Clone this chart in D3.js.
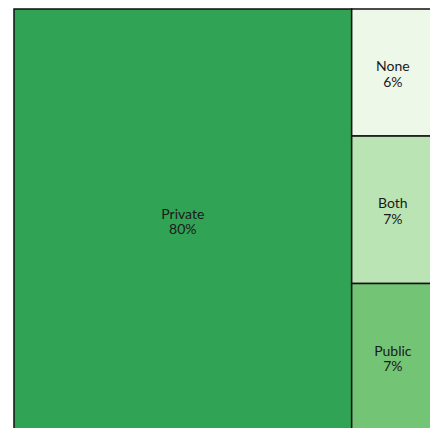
<!DOCTYPE html>
<html>
<head>
<meta charset="utf-8">
<script src="https://cdn.jsdelivr.net/npm/d3@7"></script>
<style>
    body { margin: 0; background: #fff; }
    svg { display: block; }
</style>
</head>
<body>
<svg width="430" height="428"></svg>
<script>
// Data: categories and their shares (percent)
const categories = ["Private", "None", "Both", "Public"];
const shares = [80.4, 5.9, 6.85, 6.85];
const colors = ["#31a354", "#edf8e9", "#bae4b3", "#74c476"];

// Builds the hierarchy: Private on the left, the rest stacked on the right
function createTree() {
    const leaves = categories.map((c, i) => ({ name: c, value: shares[i], color: colors[i] }));
    return {
        name: "root",
        children: [
            leaves[0],
            { name: "other", children: leaves.slice(1) }
        ]
    };
}

function drawTreemap() {
    const svg = d3.select("svg");
    svg.selectAll('*').remove();

    // the chart runs past the right and bottom edges of the window
    const attr_area = { x: 14, y: 9, width: 420, height: 422 };

    const root = d3.hierarchy(createTree()).sum(d => d.value || 0);
    const total = root.value;

    d3.treemap()
        .tile(d3.treemapSliceDice)
        .size([attr_area.width, attr_area.height])
        .round(false)(root);

    const g = svg.append("g")
        .attr("transform", `translate(${attr_area.x}, ${attr_area.y})`);

    const cell = g.selectAll("g.cell")
        .data(root.leaves())
        .enter()
        .append("g")
        .attr("class", "cell")
        .attr("transform", d => `translate(${d.x0}, ${d.y0})`);

    cell.append("rect")
        .attr("width", d => d.x1 - d.x0)
        .attr("height", d => d.y1 - d.y0)
        .attr("fill", d => d.data.color)
        .attr("stroke", "#111")
        .attr("stroke-width", 1.5);

    const fmt = d3.format(".0%");
    const label = cell.append("text")
        .attr("x", d => (d.x1 - d.x0) / 2)
        .attr("y", d => (d.y1 - d.y0) / 2)
        .attr("text-anchor", "middle")
        .style("font-family", "Lato, 'Open Sans', sans-serif")
        .style("font-size", "14px")
        .style("fill", "#1a1a1a");

    label.append("tspan")
        .attr("x", d => (d.x1 - d.x0) / 2)
        .attr("dy", "-0.1em")
        .text(d => d.data.name);

    label.append("tspan")
        .attr("x", d => (d.x1 - d.x0) / 2)
        .attr("dy", "1.1em")
        .text(d => fmt(d.value / total));
}

drawTreemap();
</script>
</body>
</html>
